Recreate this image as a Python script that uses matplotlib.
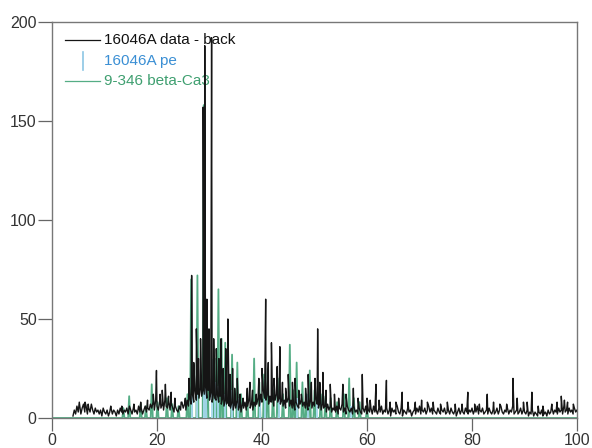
import numpy as np
import matplotlib.pyplot as plt

plt.rcParams['font.family'] = ['Liberation Sans', 'DejaVu Sans']

# 16046A data - background: noisy baseline on a 0.25 deg grid from 4 to 100 deg
scan_start, scan_step = 4.0, 0.25
base_counts = [
    1, 4, 2, 6, 3, 7, 2, 5, 7, 3, 6, 2, 5, 3, 7, 4, 2, 5, 3, 4,
    2, 4, 1, 5, 3, 2, 4, 1, 3, 5, 2, 4, 3, 1, 4, 2, 5, 3, 2, 4,
    3, 5, 2, 6, 4, 2, 5, 3, 4, 2, 6, 3, 5, 2, 4, 6, 3, 5, 4, 7,
    5, 8, 4, 9, 6, 4, 8, 5, 7, 4, 9, 6, 5, 8, 4, 7, 5, 3, 6, 4,
    3, 6, 4, 8, 5, 7, 4, 9, 6, 10, 7, 12, 8, 14, 9, 12, 10, 15, 11, 14,
    12, 16, 10, 14, 9, 13, 8, 12, 10, 9, 12, 8, 11, 7, 10, 6, 9, 7, 8, 6,
    5, 8, 4, 7, 5, 9, 4, 6, 3, 7, 5, 8, 4, 6, 9, 5, 7, 4, 8, 6,
    7, 10, 6, 12, 8, 14, 10, 9, 12, 7, 11, 8, 10, 6, 9, 12, 8, 10, 7, 9,
    6, 9, 5, 8, 10, 6, 9, 5, 7, 4, 8, 6, 5, 7, 9, 6, 8, 5, 7, 4,
    6, 9, 5, 8, 6, 10, 7, 5, 8, 4, 7, 5, 6, 3, 7, 4, 6, 3, 5, 4,
    3, 6, 2, 5, 4, 7, 3, 5, 2, 6, 4, 3, 5, 2, 6, 3, 4, 2, 5, 3,
    2, 5, 3, 6, 2, 4, 3, 5, 2, 6, 3, 4, 2, 5, 3, 6, 2, 4, 3, 5,
    2, 4, 1, 5, 3, 4, 2, 6, 3, 2, 5, 1, 4, 3, 2, 5, 3, 4, 1, 3,
    4, 2, 5, 3, 6, 2, 4, 3, 5, 2, 4, 6, 3, 5, 2, 4, 3, 2, 5, 3,
    2, 4, 3, 5, 2, 3, 4, 2, 5, 3, 2, 4, 1, 3, 5, 2, 4, 3, 2, 5,
    3, 2, 4, 3, 5, 2, 4, 3, 6, 2, 4, 3, 5, 2, 3, 4, 2, 5, 3, 2,
    4, 2, 3, 5, 2, 4, 6, 3, 2, 4, 3, 5, 2, 4, 3, 6, 2, 3, 4, 2,
    3, 5, 2, 4, 3, 2, 4, 1, 3, 2, 4, 1, 3, 2, 1, 3, 2, 4, 1, 2,
    3, 1, 4, 2, 3, 5, 2, 4, 3, 2, 5, 3, 4, 2, 6, 3, 4, 2, 5, 3,
    4, 2, 5, 3, 4,
]

# peaks in the measured data (2theta, counts)
data_peak_pos = [5.2, 6.3, 6.9, 11.2, 13.3, 15.6, 16.9, 18.2, 19.3, 19.9, 20.6, 21.0, 21.6, 22.2,
                 22.7, 23.4, 24.6, 25.4, 26.1, 26.6, 27.0, 27.5, 27.9, 28.3, 28.8, 29.1, 29.5, 29.9,
                 30.4, 30.8, 31.3, 31.8, 32.2, 32.6, 33.1, 33.5, 33.9, 34.4, 34.8, 35.3, 35.8, 36.4,
                 37.2, 37.7, 38.2, 38.9, 39.4, 40.0, 40.7, 41.2, 41.8, 42.3, 42.9, 43.4, 43.9, 44.5,
                 45.0, 45.8, 46.3, 47.0, 47.5, 48.3, 48.8, 49.4, 50.1, 50.6, 51.0, 51.6, 52.2, 53.0,
                 53.8, 54.6, 55.4, 56.0, 57.4, 58.3, 59.1, 60.0, 60.6, 61.7, 62.3, 63.7, 64.4, 65.5,
                 66.7, 67.8, 69.2, 70.4, 71.5, 72.6, 74.0, 75.3, 76.8, 78.1, 79.2, 80.5, 81.4, 82.9,
                 84.1, 85.3, 86.6, 87.8, 88.6, 89.8, 90.5, 91.4, 92.6, 93.5, 95.2, 96.2, 97.0, 97.6,
                 98.2, 99.3]
data_peak_int = [8, 8, 7, 6, 6, 7, 8, 9, 12, 24, 12, 14, 17, 11,
                 13, 10, 8, 10, 20, 72, 28, 45, 30, 40, 157, 188, 60, 45,
                 192, 40, 35, 30, 40, 25, 35, 50, 22, 25, 15, 20, 12, 10,
                 15, 18, 14, 12, 20, 25, 60, 28, 38, 20, 26, 36, 18, 15,
                 22, 18, 20, 14, 12, 15, 22, 18, 20, 45, 18, 23, 14, 17,
                 12, 10, 17, 12, 15, 10, 22, 10, 9, 17, 9, 19, 8, 8,
                 13, 8, 8, 9, 8, 8, 7, 8, 7, 7, 13, 7, 7, 12,
                 8, 7, 7, 20, 10, 8, 8, 13, 6, 6, 7, 8, 11, 9,
                 8, 7]

# 9-346 beta-Ca3(PO4)2 reference pattern
ref_pos = [13.6, 14.7, 16.9, 17.9, 19.0, 20.1, 21.9, 22.9, 24.1, 25.8, 26.5, 27.7, 28.9, 29.6,
           31.0, 31.7, 32.3, 33.0, 34.3, 35.3, 36.0, 37.2, 38.5, 39.5, 40.4, 41.1, 42.1, 43.0,
           44.0, 45.3, 46.0, 46.6, 47.7, 48.4, 49.1, 50.0, 51.2, 52.1, 53.1, 54.3, 55.6, 56.6,
           57.5, 58.6, 60.0]
ref_int = [5, 11, 7, 6, 17, 8, 10, 7, 6, 12, 70, 72, 158, 40,
           30, 65, 40, 38, 32, 28, 12, 10, 30, 18, 22, 25, 14, 20,
           12, 37, 14, 28, 18, 12, 24, 14, 12, 11, 10, 8, 12, 20,
           10, 8, 6]

# 16046A peak search markers
pk_pos = [26.6, 27.7, 29.0, 29.4, 30.4, 31.0, 31.7, 32.9, 34.2, 35.4, 39.6, 40.6, 43.2,
          46.7, 48.7, 50.5, 57.0]
pk_int = [14, 20, 35, 25, 30, 18, 16, 12, 14, 10, 12, 20, 10, 10, 12, 8, 6]

base_x = scan_start + scan_step * np.arange(len(base_counts))
dx = np.concatenate([base_x, data_peak_pos])
dy = np.concatenate([base_counts, data_peak_int])
order = np.argsort(dx, kind='stable')
dx, dy = dx[order], dy[order]

# reference sticks broadened into narrow triangles
rx = [0.0]
ry = [0.0]
for p, h in zip(ref_pos, ref_int):
    rx += [p - 0.2, p, p + 0.2]
    ry += [0, h, 0]
rx.append(100.0)
ry.append(0.0)

fig = plt.figure(figsize=(5.92, 4.48), dpi=100)
ax = fig.add_axes([0.0878, 0.067, 0.8869, 0.884])

ax.plot(rx, ry, color='#55ad85', lw=1.3, zorder=2)
ax.vlines(pk_pos, 0, pk_int, color='#a6d8ef', lw=1.3, zorder=3)
ax.plot(dx, dy, color='#151515', lw=1.0, zorder=4)

ax.set_xlim(0, 100)
ax.set_ylim(0, 200)
ax.set_xticks([0, 20, 40, 60, 80, 100])
ax.set_yticks([0, 50, 100, 150, 200])
ax.tick_params(direction='out', length=9, width=0.9, color='#666', labelsize=11.5,
               labelcolor='#333', pad=2)
ax.tick_params(axis='y', length=10, pad=1)
for s in ax.spines.values():
    s.set_color('#777')
    s.set_linewidth(1.0)

# legend, drawn beneath the data so the tall peaks cross it
ax.plot([0.025, 0.091], [0.9545, 0.9545], transform=ax.transAxes, color='#151515', lw=0.9, zorder=1)
ax.text(0.099, 0.9545, '16046A data - back', transform=ax.transAxes, va='center',
        fontsize=11, color='#111', zorder=1)
ax.plot([0.059, 0.059], [0.879, 0.924], transform=ax.transAxes, color='#8cc6e4', lw=1.2, zorder=1)
ax.text(0.099, 0.9015, '16046A pe', transform=ax.transAxes, va='center',
        fontsize=11, color='#3b8fd4', zorder=1)
ax.plot([0.025, 0.091], [0.851, 0.851], transform=ax.transAxes, color='#55ad85', lw=0.9, zorder=1)
ax.text(0.099, 0.851, '9-346 beta-Ca3', transform=ax.transAxes, va='center',
        fontsize=11, color='#3f9f70', zorder=1)

fig.savefig('out.png', dpi=100)
